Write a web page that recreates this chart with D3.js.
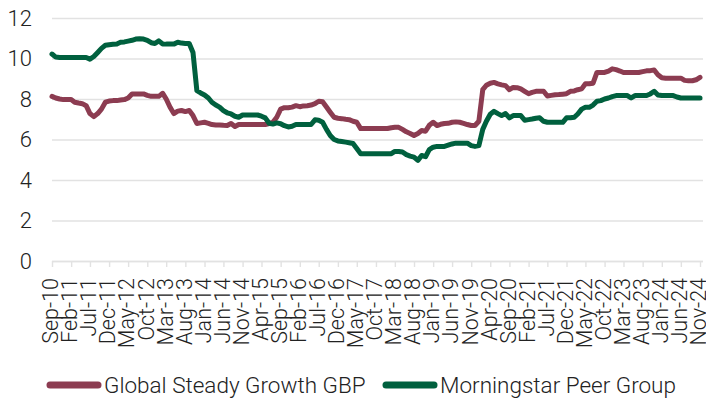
<!DOCTYPE html>
<html>
<head>
<meta charset="utf-8">
<script src="https://cdn.jsdelivr.net/npm/d3@7"></script>
<style>
  body { margin: 0; background: #fff; }
  svg text { font-family: Roboto, "Open Sans", sans-serif; font-weight: 300; fill: #222; }
</style>
</head>
<body>
<script>
// monthly points, Sep-10 .. Nov-24
let startMonth = new Date(2010, 8, 1);
let seriesNames = ["Global Steady Growth GBP", "Morningstar Peer Group"];
let seriesColors = ["#8c3c51", "#00603e"];

let steadyGrowth = [
  8.13, 8.05, 8.0, 7.97, 7.97, 7.97, 7.84, 7.8, 7.77, 7.67,
  7.28, 7.13, 7.28, 7.5, 7.84, 7.9, 7.92, 7.92, 7.95, 7.97,
  8.05, 8.25, 8.25, 8.25, 8.25, 8.18, 8.13, 8.13, 8.13, 8.28,
  8.0, 7.59, 7.28, 7.4, 7.43, 7.38, 7.43, 7.18, 6.79, 6.82,
  6.85, 6.8, 6.74, 6.72, 6.72, 6.7, 6.69, 6.79, 6.64, 6.74,
  6.74, 6.74, 6.74, 6.74, 6.74, 6.74, 6.74, 6.79, 6.85, 7.1,
  7.5, 7.57, 7.57, 7.6, 7.67, 7.62, 7.66, 7.67, 7.7, 7.77,
  7.89, 7.86, 7.6, 7.35, 7.1, 7.05, 7.03, 7.0, 6.98, 6.9,
  6.85, 6.54, 6.54, 6.54, 6.54, 6.54, 6.54, 6.54, 6.54, 6.58,
  6.6, 6.6, 6.5, 6.38, 6.3, 6.2, 6.3, 6.44, 6.41, 6.7,
  6.85, 6.69, 6.75, 6.79, 6.8, 6.85, 6.87, 6.85, 6.8, 6.74,
  6.69, 6.69, 6.9, 8.46, 8.68, 8.78, 8.82, 8.75, 8.7, 8.66,
  8.46, 8.57, 8.56, 8.5, 8.38, 8.26, 8.33, 8.38, 8.38, 8.38,
  8.15, 8.18, 8.21, 8.22, 8.24, 8.26, 8.38, 8.4, 8.46, 8.5,
  8.75, 8.75, 8.78, 9.31, 9.31, 9.31, 9.38, 9.49, 9.45, 9.38,
  9.31, 9.31, 9.31, 9.31, 9.31, 9.35, 9.39, 9.4, 9.43, 9.2,
  9.05, 9.03, 9.03, 9.03, 9.03, 9.03, 8.92, 8.9, 8.9, 8.95,
  9.07
];

let peerGroup = [
  10.22, 10.07, 10.05, 10.05, 10.05, 10.05, 10.05, 10.05, 10.05, 10.05,
  9.97, 10.1, 10.3, 10.5, 10.65, 10.68, 10.7, 10.72, 10.8, 10.82,
  10.86, 10.9, 10.96, 10.98, 10.96, 10.9, 10.78, 10.74, 10.87, 10.72,
  10.71, 10.71, 10.71, 10.8, 10.76, 10.74, 10.74, 10.3, 8.41, 8.3,
  8.2, 8.05, 7.84, 7.7, 7.6, 7.43, 7.32, 7.26, 7.15, 7.1,
  7.21, 7.21, 7.21, 7.21, 7.21, 7.15, 7.07, 6.8, 6.76, 6.82,
  6.78, 6.68, 6.62, 6.65, 6.74, 6.74, 6.74, 6.74, 6.74, 6.97,
  6.95, 6.85, 6.5, 6.2, 6.0, 5.93, 5.9, 5.87, 5.84, 5.8,
  5.55, 5.3, 5.3, 5.3, 5.3, 5.3, 5.3, 5.3, 5.3, 5.3,
  5.41, 5.41, 5.38, 5.25, 5.18, 5.13, 4.97, 5.21, 5.15, 5.5,
  5.62, 5.66, 5.66, 5.66, 5.72, 5.78, 5.82, 5.82, 5.82, 5.82,
  5.7, 5.66, 5.7, 6.5, 6.9, 7.25, 7.39, 7.28, 7.18, 7.28,
  7.07, 7.18, 7.18, 7.18, 6.95, 6.98, 7.01, 7.05, 7.07, 6.9,
  6.85, 6.85, 6.85, 6.85, 6.85, 7.07, 7.07, 7.1, 7.26, 7.5,
  7.59, 7.59, 7.7, 7.89, 7.92, 8.0, 8.05, 8.12, 8.17, 8.17,
  8.17, 8.17, 8.05, 8.17, 8.17, 8.17, 8.17, 8.25, 8.38, 8.2,
  8.17, 8.17, 8.17, 8.17, 8.1, 8.05, 8.05, 8.05, 8.05, 8.05,
  8.05
];

let yTicks = [0, 2, 4, 6, 8, 10, 12];
let tickEvery = 5; // label every 5th month

function main(){
  let width = 706, height = 402;
  let margin = {left: 52, right: 6, top: 18, bottom: 141};

  let months = steadyGrowth.map((d, i) => d3.timeMonth.offset(startMonth, i));

  let x = d3.scaleTime()
    .domain([months[0], months[months.length - 1]])
    .range([margin.left, width - margin.right]);
  let y = d3.scaleLinear()
    .domain([0, 12])
    .range([height - margin.bottom, margin.top]);

  let svg = d3.select("body").append("svg")
    .attr("width", width).attr("height", height);

  // horizontal grid + y labels
  let yAxis = svg.append("g")
    .attr("transform", "translate(" + margin.left + ",0)")
    .call(d3.axisLeft(y).tickValues(yTicks).tickSize(-(width - margin.left - 3)).tickPadding(20));
  yAxis.select(".domain").remove();
  yAxis.selectAll(".tick line").attr("stroke", "#e2e2e2").attr("stroke-width", 1.6);
  yAxis.selectAll(".tick text").style("font-size", "22px").attr("fill", "#222");

  // x axis with rotated month labels
  let xTickVals = months.filter((d, i) => i % tickEvery === 0);
  let xAxis = svg.append("g")
    .attr("transform", "translate(0," + y(0) + ")")
    .call(d3.axisBottom(x).tickValues(xTickVals).tickFormat(d3.timeFormat("%b-%y")).tickSize(6).tickSizeOuter(0));
  xAxis.select(".domain").attr("stroke", "#e2e2e2").attr("stroke-width", 1.6)
    .attr("d", "M" + margin.left + ",0.5H" + (width - 3));
  xAxis.selectAll(".tick line").attr("stroke", "#e2e2e2").attr("stroke-width", 1.4);
  xAxis.selectAll(".tick text")
    .style("font-size", "21.5px")
    .attr("text-anchor", "end")
    .attr("transform", "rotate(-90)")
    .attr("x", -17)
    .attr("y", 0)
    .attr("dy", "0.27em");

  let line = d3.line()
    .x((d, i) => x(months[i]))
    .y(d => y(d));

  [steadyGrowth, peerGroup].forEach((s, k) => {
    svg.append("path")
      .datum(s)
      .attr("fill", "none")
      .attr("stroke", seriesColors[k])
      .attr("stroke-width", 5)
      .attr("stroke-linejoin", "round")
      .attr("stroke-linecap", "round")
      .attr("d", line);
  });

  // legend
  let legendX = [47, 383];
  let legend = svg.append("g");
  seriesNames.forEach((name, k) => {
    let g = legend.append("g").attr("transform", "translate(" + legendX[k] + ",385)");
    g.append("line")
      .attr("x1", 3).attr("x2", 51)
      .attr("stroke", seriesColors[k])
      .attr("stroke-width", 7)
      .attr("stroke-linecap", "round");
    g.append("text")
      .attr("x", 57)
      .attr("dy", "0.36em")
      .style("font-size", "22.5px")
      .text(name);
  });
}

main();
</script>
</body>
</html>
